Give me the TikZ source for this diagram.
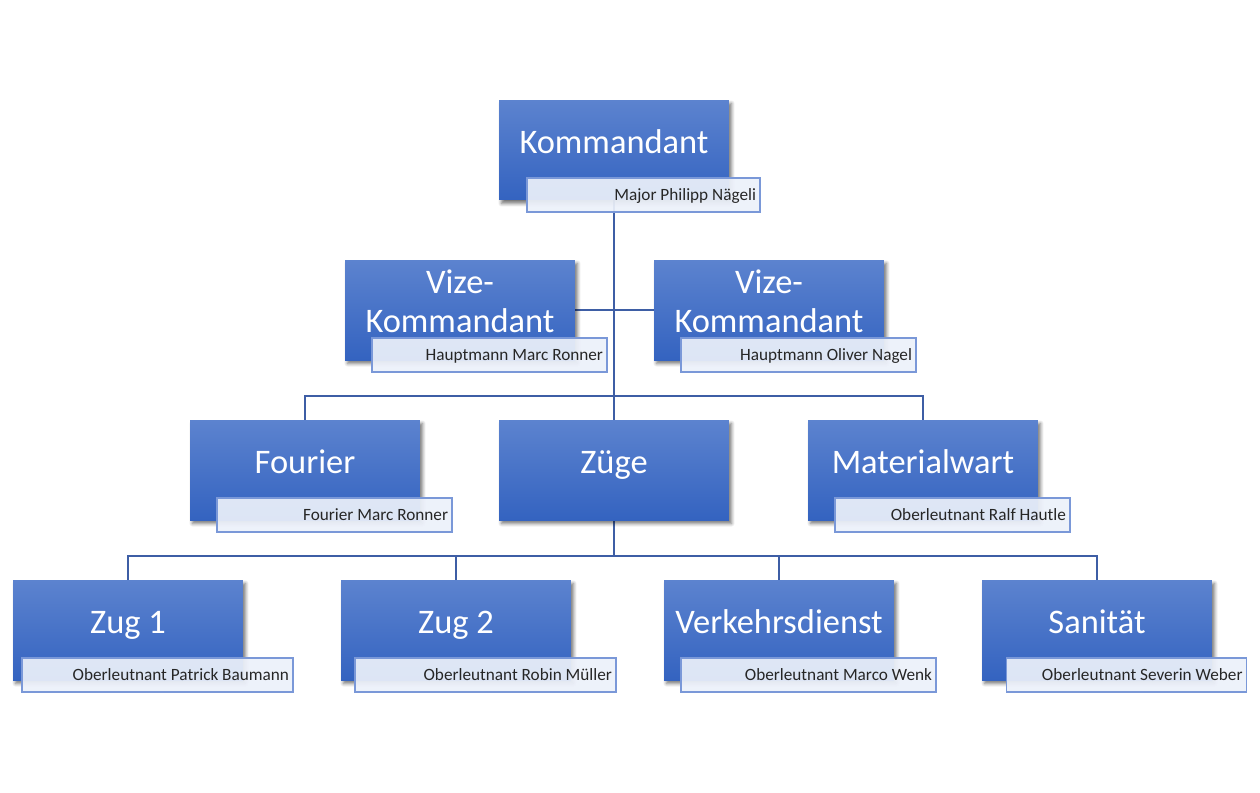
\documentclass[tikz,border=0pt]{standalone}
\usepackage{fontspec}
\setmainfont{Carlito}
\usetikzlibrary{shadows.blur,backgrounds}
\definecolor{boxtop}{RGB}{92,131,207}
\definecolor{boxbot}{RGB}{52,99,192}
\definecolor{linienblau}{RGB}{62,94,165}
\definecolor{namefill}{RGB}{236,241,250}
\definecolor{namerand}{RGB}{122,152,216}
\begin{document}
\begin{tikzpicture}[
  x=0.02cm, y=-0.02cm,
  amt/.style={rectangle,minimum width=4.6cm,minimum height=2cm,top color=boxtop,bottom color=boxbot,
    text=white,font=\fontsize{19.6}{22}\selectfont,align=center,text height=0.5cm,text depth=0.38cm,
    blur shadow={shadow xshift=0.05cm,shadow yshift=-0.07cm,shadow blur steps=6,shadow opacity=55}},
  zwei/.style={text height=1.23cm,text depth=0.35cm},
  person/.style={rectangle,draw=namerand,line width=0.6pt,fill=namefill,fill opacity=0.92,text opacity=1,
    text width=#1*0.02cm-0.16cm,align=flush right,minimum height=0.68cm,inner xsep=0.08cm,inner ysep=0pt,
    text height=0.24cm,text depth=0.04cm,font=\fontsize{9.8}{11}\selectfont,text=black!85},
  person/.default=235,
  verbinder/.style={draw=linienblau,line width=1.3pt}
]
  \useasboundingbox (0,0) rectangle (1260,792);

  \node[amt] (kdt) at (614,150) {Kommandant};
  \node[person=233] (kdt-p) at ([shift={(29.5,45)}]kdt.center) {Major Philipp Nägeli};

  \node[amt,zwei] (vz1) at (460,310) {Vize-\\Kommandant};
  \node[person] (vz1-p) at ([shift={(29.5,45)}]vz1.center) {Hauptmann Marc Ronner};
  \node[amt,zwei] (vz2) at (769,310) {Vize-\\Kommandant};
  \node[person] (vz2-p) at ([shift={(29.5,45)}]vz2.center) {Hauptmann Oliver Nagel};

  \node[amt] (fou) at (305,470) {Fourier};
  \node[person] (fou-p) at ([shift={(29.5,45)}]fou.center) {Fourier Marc Ronner};
  \node[amt] (zuege) at (614,470) {Züge};
  \node[amt] (mat) at (923,470) {Materialwart};
  \node[person] (mat-p) at ([shift={(29.5,45)}]mat.center) {Oberleutnant Ralf Hautle};

  \node[amt] (zug1) at (128,630) {Zug 1};
  \node[person=271] (zug1-p) at ([shift={(29.5,45)}]zug1.center) {Oberleutnant Patrick Baumann};
  \node[amt] (zug2) at (456,630) {Zug 2};
  \node[person=261] (zug2-p) at ([shift={(29.5,45)}]zug2.center) {Oberleutnant Robin Müller};
  \node[amt] (verk) at (779,630) {Verkehrsdienst};
  \node[person=255] (verk-p) at ([shift={(29.5,45)}]verk.center) {Oberleutnant Marco Wenk};
  \node[amt] (sani) at (1097,630) {Sanität};
  \node[person=240] (sani-p) at ([shift={(29.5,45)}]sani.center) {Oberleutnant Severin Weber};

  \begin{scope}[on background layer]
    \coordinate (bus1) at (614,396);
    \coordinate (bus2) at (614,556);
    \draw[verbinder] (kdt) -- (zuege);
    \draw[verbinder] (vz1) -- (vz2);
    \draw[verbinder] (fou) |- (bus1) -| (mat);
    \draw[verbinder] (zuege) -- (bus2);
    \draw[verbinder] (zug1) |- (bus2) -| (sani);
    \draw[verbinder] (zug2) |- (bus2);
    \draw[verbinder] (verk) |- (bus2);
  \end{scope}
\end{tikzpicture}
\end{document}
